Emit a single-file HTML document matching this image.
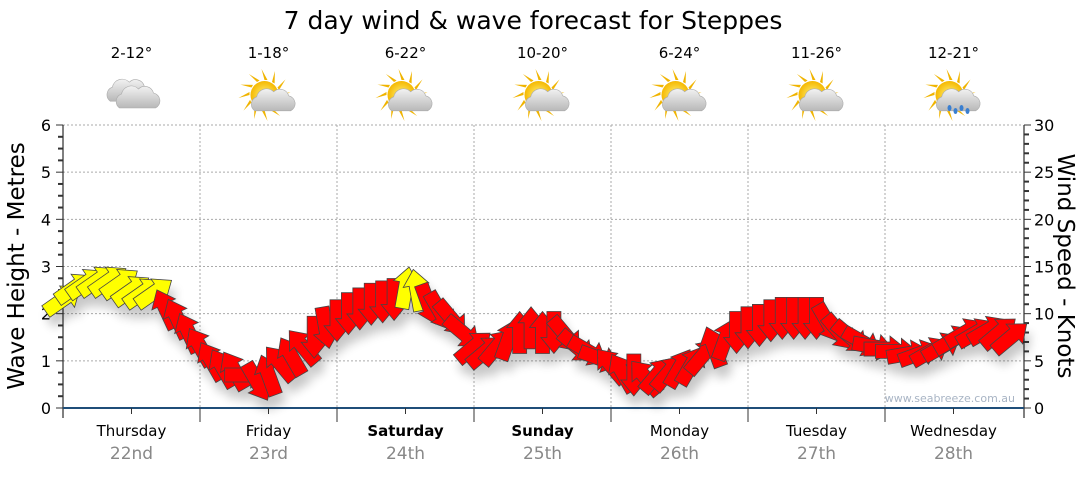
<!DOCTYPE html>
<html><head><meta charset="utf-8"><style>
body{margin:0;background:#fff;width:1080px;height:475px;overflow:hidden;font-family:"Liberation Sans","DejaVu Sans",sans-serif}
</style></head><body>
<svg id="chart" width="1080" height="475" xmlns="http://www.w3.org/2000/svg" font-family="'DejaVu Sans','Liberation Sans',sans-serif">
<defs>
<filter id="sh" x="-20%" y="-20%" width="140%" height="160%"><feGaussianBlur in="SourceAlpha" stdDeviation="5"/><feOffset dx="4" dy="10"/><feComponentTransfer><feFuncA type="linear" slope="0.22"/></feComponentTransfer><feMerge><feMergeNode/><feMergeNode in="SourceGraphic"/></feMerge></filter>
<radialGradient id="sun" cx="50%" cy="50%" r="50%"><stop offset="0" stop-color="#fff27a"/><stop offset="1" stop-color="#f5b800"/></radialGradient>
<linearGradient id="cld" x1="0" y1="0" x2="0" y2="1"><stop offset="0" stop-color="#f2f2f2"/><stop offset="1" stop-color="#b8b8b8"/></linearGradient>
</defs>
<text x="533" y="29" font-size="25" text-anchor="middle" fill="#000">7 day wind &amp; wave forecast for Steppes</text>
<g id="grid"></g>
<g id="axes"></g>
<g id="arrows" filter="url(#sh)"></g>
<g id="days"></g>
<text transform="translate(24,266) rotate(-90)" font-size="23" text-anchor="middle">Wave Height - Metres</text>
<text transform="translate(1058,266) rotate(90)" font-size="23" text-anchor="middle">Wind Speed - Knots</text>
<text x="1015" y="402" font-size="11" text-anchor="end" fill="#a8b4c4">www.seabreeze.com.au</text>
</svg>
<script>
const dayNames=["Thursday","Friday","Saturday","Sunday","Monday","Tuesday","Wednesday"];
const dayDates=["22nd","23rd","24th","25th","26th","27th","28th"];
const dayBold=[false,false,true,true,false,false,false];
const temps=["2-12°","1-18°","6-22°","10-20°","6-24°","11-26°","12-21°"];
const icons=["cloud","suncloud","suncloud","suncloud","suncloud","suncloud","rain"];
const leftTicks=[0,1,2,3,4,5,6];
const rightTicks=[0,5,10,15,20,25,30];
// wind speed (knots), every 2 hours from Thursday 00:00
const windKnots=[
11.5,12.75,13.25,13.5,13.5,13.25,12.5,12.25,12.25,10.5,9.5,8,
6.5,5,4.25,4,3.5,2.75,3.5,4.75,5.5,6.5,7.5,8.5,
9.25,10,10.5,11,11.25,11.5,12.75,12.5,11,10.25,9.5,8,
6.5,6,6.5,7.25,8,8.5,8,8,7.75,6.5,6,5.25,
4.5,3.75,3.5,3.25,3.5,3.75,4.25,4.5,5.5,6.5,7.25,8,
8.5,8.75,9.25,9.5,9.5,9.5,9.5,9,8,7.5,7,6.5,
6.25,6,5.75,5.75,6,6.5,7.25,8,8,8.25,8,7.5];
// direction the arrow points (degrees, 0 = up, 90 = right)
const windDir=[
55,55,55,55,55,55,55,55,55,-25,-25,-25,
-30,-30,-30,-30,90,150,-20,-40,-30,-40,180,170,
180,180,180,180,180,180,10,-10,160,150,140,130,
50,50,40,20,0,0,0,180,140,130,120,110,
-40,-30,180,-40,40,40,30,30,40,-20,20,180,
180,180,180,180,180,180,180,150,140,130,120,100,
90,90,80,70,60,60,60,60,60,60,50,50];
const windColor=[
"y","y","y","y","y","y","y","y","y","r","r","r",
"r","r","r","r","r","r","r","r","r","r","r","r",
"r","r","r","r","r","r","y","y","r","r","r","r",
"r","r","r","r","r","r","r","r","r","r","r","r",
"r","r","r","r","r","r","r","r","r","r","r","r",
"r","r","r","r","r","r","r","r","r","r","r","r",
"r","r","r","r","r","r","r","r","r","r","r","r"];
const NS="http://www.w3.org/2000/svg";
const X0=63,X1=1022,Y0=408,YT=125;
const dayW=(X1-X0)/7;
function xHour(h){return X0+h*dayW/24;}
function yM(m){return Y0-(Y0-YT)*m/6;}
function yK(k){return Y0-(Y0-YT)*k/30;}
function mk(tag,attrs,parent){const e=document.createElementNS(NS,tag);for(const k in attrs)e.setAttribute(k,attrs[k]);parent.appendChild(e);return e;}
const grid=document.getElementById('grid'),axes=document.getElementById('axes'),arr=document.getElementById('arrows'),days=document.getElementById('days');
leftTicks.forEach(v=>{
 if(v>0){const l=mk('line',{x1:X0,x2:X1,y1:yM(v),y2:yM(v),stroke:'#aaa','stroke-dasharray':'2,2'},grid);
 
 }
 const t=mk('text',{x:X0-12,y:yM(v)+6,'font-size':16,'text-anchor':'end',fill:'#000'},axes);t.textContent=v;
 
 
});
for(let i=1;i<7;i++){const l=mk('line',{x1:X0+dayW*i,x2:X0+dayW*i,y1:YT,y2:Y0,stroke:'#aaa','stroke-dasharray':'2,2'},grid);
 
 }
mk('line',{x1:X0,x2:X0,y1:YT,y2:Y0+10,stroke:'#000'},axes);
mk('line',{x1:X1+2,x2:X1+2,y1:YT,y2:Y0+10,stroke:'#000'},axes);
for(let i=0;i<=24;i++){const y=YT+(Y0-YT)*i/24;mk('line',{x1:X0-(i%4==0?7:5),x2:X0,y1:y,y2:y,stroke:'#333','stroke-width':i%4==0?1:2},axes);}
for(let i=0;i<=30;i++){const y=YT+(Y0-YT)*i/30;mk('line',{x1:X1+2,x2:X1+(i%5==0?9:7),y1:y,y2:y,stroke:'#333','stroke-width':i%5==0?1:2},axes);}
rightTicks.forEach(v=>{const t=mk('text',{x:X1+12,y:yK(v)+6,'font-size':16,fill:'#000'},axes);t.textContent=v;
 
 });
mk('line',{x1:X0,x2:X1+2,y1:Y0,y2:Y0,stroke:'#1f4e79','stroke-width':2},axes);
for(let h=12;h<168;h+=12){const x=xHour(h);mk('line',{x1:x,x2:x,y1:Y0,y2:Y0+(h%24==0?14:6),stroke:'#333'},axes);}
// arrows
windKnots.forEach((k,i)=>{
 const x=xHour(i*2),y=yK(k);
 const p=mk('polygon',{points:'0,-21 13,-5 7,-5 7,21 -7,21 -7,-5 -13,-5',transform:`translate(${x},${y}) rotate(${windDir[i]})`,fill:windColor[i]=='y'?'#ffff00':'#ff0000',stroke:'#444','stroke-width':0.8},arr);
 
 
});
// day labels + icons
function cloud(g,cx,cy,s){mk('path',{d:`M${cx-18*s},${cy+8*s} a8 8 0 0 1 2,-14 a10 10 0 0 1 17,-5 a9 9 0 0 1 15,4 a8 8 0 0 1 2,15 z`,fill:'url(#cld)',stroke:'#aaa','stroke-width':0.6},g);}
dayNames.forEach((n,i)=>{
 const cx=X0+dayW*(i+0.5);
 const t=mk('text',{x:cx,y:436,'font-size':15,'text-anchor':'middle','font-weight':dayBold[i]?'bold':'normal'},days);t.textContent=n;
 
 
 const d=mk('text',{x:cx,y:459,'font-size':17,'text-anchor':'middle',fill:'#888'},days);d.textContent=dayDates[i];
 
 
 const tt=mk('text',{x:cx,y:58,'font-size':15,'text-anchor':'middle'},days);tt.textContent=temps[i];
 
 
 const g=mk('g',{},days);
 
 
 if(icons[i]=='cloud'){cloud(g,cx-5,94,0.9);cloud(g,cx+6,100,1);}
 else{
  for(let a=0;a<360;a+=30)mk('polygon',{points:`${cx-4},${80} ${cx-7},${69} ${cx-1},${80}`,fill:'#f0b400',transform:`rotate(${a} ${cx-4} ${95})`},g);
  mk('circle',{cx:cx-4,cy:95,r:14,fill:'url(#sun)'},g);
  cloud(g,cx+6,102,1.1);
  if(icons[i]=='rain'){for(let j=0;j<4;j++)mk('ellipse',{cx:cx-4+j*6,cy:108+(j%2)*3,rx:2,ry:3,fill:'#3a7fd0'},g);}
 }
});
</script>
</body></html>
